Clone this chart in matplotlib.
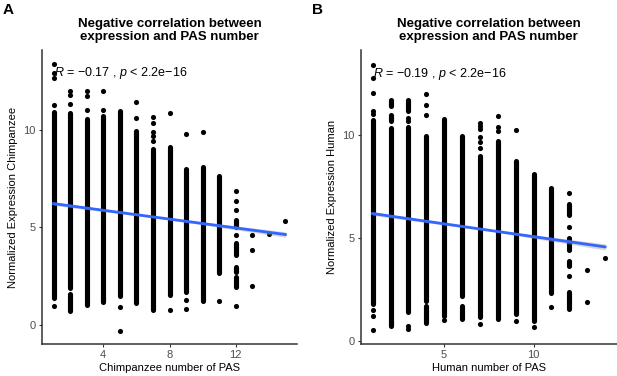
import numpy as np
import matplotlib
matplotlib.use("Agg")
import matplotlib.pyplot as plt

plt.rcParams['font.family'] = ['Liberation Sans', 'DejaVu Sans']
plt.rcParams['mathtext.fontset'] = 'custom'
plt.rcParams['mathtext.rm'] = 'Liberation Sans'
plt.rcParams['mathtext.it'] = 'Liberation Sans:italic'

# ---------------- panel A : chimpanzee ----------------
# dense runs of points (x = number of PAS, lo..hi of normalized expression)
segA_x  = [1, 2, 2, 3, 4, 5, 6, 7, 8, 9, 10, 11, 12, 12, 12, 12]
segA_lo = [1.4, 1.9, 0.75, 1.05, 1.2, 1.5, 1.14, 0.8, 1.56, 1.7, 1.22, 2.66, 5.0, 3.6, 2.74, 1.98]
segA_hi = [10.9, 10.87, 1.6, 10.53, 10.7, 10.98, 9.94, 9.0, 9.1, 8.0, 8.1, 7.65, 5.4, 4.2, 2.99, 2.49]
# isolated points
dotA_x = [1, 1, 1, 1, 1, 2, 2, 2, 3, 3, 3, 4, 4, 5, 5, 6, 6, 7, 7, 7, 7, 7,
          8, 8, 9, 9, 9, 10, 11, 12, 12, 12, 12, 12, 13, 13, 13, 14, 15]
dotA_y = [13.35, 12.9, 12.64, 11.29, 1.0, 12.0, 11.8, 11.34, 12.0, 11.75, 11.03,
          11.96, 11.0, 0.95, -0.28, 11.42, 10.6, 10.64, 10.36, 9.9, 9.7, 9.4,
          10.86, 0.8, 9.78, 1.3, 0.83, 9.9, 1.25, 6.85, 6.38, 5.9, 4.6, 0.96,
          4.6, 3.85, 2.03, 4.69, 5.31]
fitA_x = [1, 15]
fitA_y = [6.22, 4.64]
bandA_x = [1, 8, 15]
bandA_hw = [0.09, 0.04, 0.14]
rA = "−0.17"

# ---------------- panel B : human ----------------
segB_x  = [1, 2, 2, 2, 3, 3, 4, 4, 5, 6, 6, 7, 8, 9, 10, 11, 12, 12, 12, 12]
segB_lo = [1.79, 0.75, 10.7, 11.41, 1.4, 11.2, 1.95, 0.9, 1.23, 2.2, 1.07, 1.15, 1.07, 1.3, 0.99, 2.36, 6.15, 4.44, 3.63, 1.56]
segB_hi = [10.77, 10.37, 11.0, 11.73, 10.4, 11.7, 9.97, 1.7, 10.8, 9.97, 1.7, 9.0, 9.73, 8.76, 8.12, 7.45, 6.68, 5.0, 3.87, 2.4]
dotB_x = [1, 1, 1, 1, 1, 1, 1, 1, 3, 3, 3, 3, 4, 4, 4, 5, 7, 7, 7, 7, 7, 7, 7,
          8, 8, 8, 9, 9, 10, 11, 12, 12, 12, 13, 13, 14]
dotB_y = [13.44, 12.77, 12.05, 11.17, 11.04, 1.5, 1.23, 0.54, 10.85, 10.7, 0.74, 0.6,
          12.0, 11.46, 10.98, 1.02, 10.6, 10.45, 10.3, 9.9, 9.7, 9.4, 0.83,
          10.93, 10.4, 10.2, 10.25, 0.99, 0.7, 1.68, 7.21, 5.53, 3.16, 3.48, 1.88, 4.02]
fitB_x = [1, 14]
fitB_y = [6.2, 4.58]
bandB_x = [1, 7.5, 14]
bandB_hw = [0.09, 0.04, 0.15]
rB = "−0.19"

fig = plt.figure(figsize=(6.17, 3.76), dpi=100)
axA = fig.add_axes([42/617, 1 - 344/376, (297-42)/617, (344-50)/376])
axB = fig.add_axes([361/617, 1 - 344/376, (617-361)/617 - 0.0005, (344-50)/376])

dot_d = 3.7  # marker diameter in points
grey = '#4D4D4D'


def draw_panel(ax, seg_x, seg_lo, seg_hi, dot_x, dot_y, fit_x, fit_y, band_x, band_hw,
               r_txt, r_y, xlim, ylim, xticks, xlabel, ylabel):
    ax.vlines(seg_x, seg_lo, seg_hi, colors='black', linewidth=dot_d,
              capstyle='round', zorder=2)
    ax.scatter(dot_x, dot_y, s=dot_d**2, color='black', linewidths=0, zorder=2)
    # fitted line + confidence band
    fx = np.array(fit_x, dtype=float)
    fy = np.array(fit_y, dtype=float)
    bx = np.array(band_x, dtype=float)
    by = np.interp(bx, fx, fy)
    hw = np.array(band_hw)
    ax.fill_between(bx, by - hw, by + hw, color='#999999', alpha=0.4, linewidth=0, zorder=3)
    ax.plot(fx, fy, color='#3366FF', linewidth=2.0, zorder=4)

    ax.text(1, r_y, r"$\it{R}$ = " + r_txt + r" , $\it{p}$ < 2.2e−16", fontsize=9,
            ha='left', va='center', zorder=5)

    ax.set_xlim(*xlim)
    ax.set_ylim(*ylim)
    ax.set_xticks(xticks)
    ax.set_yticks([0, 5, 10])
    ax.tick_params(colors='#333333', labelsize=8, length=2.5, width=0.8,
                   labelcolor=grey, pad=2)
    for s in ['top', 'right']:
        ax.spines[s].set_visible(False)
    for s in ['left', 'bottom']:
        ax.spines[s].set_color('#333333')
        ax.spines[s].set_linewidth(1.1)
    ax.set_xlabel(xlabel, fontsize=8, labelpad=2)
    ax.set_ylabel(ylabel, fontsize=8, labelpad=4)
    ax.set_title("Negative correlation between\nexpression and PAS number",
                 fontsize=9.5, fontweight='bold', pad=7, linespacing=1.1)


draw_panel(axA, segA_x, segA_lo, segA_hi, dotA_x, dotA_y, fitA_x, fitA_y, bandA_x, bandA_hw,
           rA, 12.9, (0.3, 15.7), (-0.96, 14.08), [4, 8, 12],
           "Chimpanzee number of PAS", "Normalized Expression Chimpanzee")
draw_panel(axB, segB_x, segB_lo, segB_hi, dotB_x, dotB_y, fitB_x, fitB_y, bandB_x, bandB_hw,
           rB, 13.0, (0.35, 14.65), (-0.14, 14.15), [5, 10],
           "Human number of PAS", "Normalized Expression Human")

fig.text(3/617, 1 - 10/376, "A", fontsize=11, fontweight='bold', va='center', ha='left')
fig.text(312/617, 1 - 10/376, "B", fontsize=11, fontweight='bold', va='center', ha='left')

fig.savefig("out.png", dpi=100)
